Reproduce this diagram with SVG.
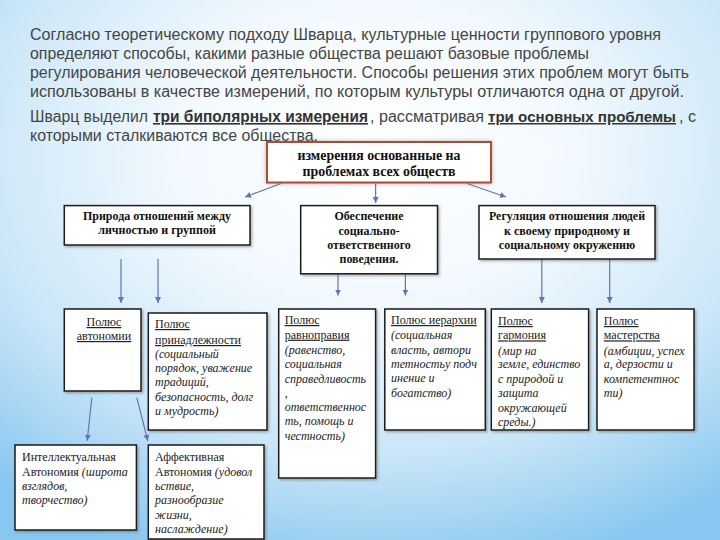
<svg xmlns="http://www.w3.org/2000/svg" width="720" height="540" viewBox="0 0 720 540">
<defs>
  <radialGradient id="bg" cx="0.52" cy="0.28" r="0.8">
    <stop offset="0" stop-color="#ffffff"/>
    <stop offset="0.35" stop-color="#f2f9fe"/>
    <stop offset="0.7" stop-color="#cae6f8"/>
    <stop offset="1" stop-color="#88c7ef"/>
  </radialGradient>
  <filter id="sh" x="-10%" y="-10%" width="130%" height="130%">
    <feDropShadow dx="1.5" dy="1.5" stdDeviation="1" flood-color="#555" flood-opacity="0.45"/>
  </filter>
  <filter id="shTop" x="-10%" y="-20%" width="120%" height="150%">
    <feDropShadow dx="0" dy="0" stdDeviation="2" flood-color="#666" flood-opacity="0.5"/>
  </filter>
  <marker id="arr" markerWidth="8" markerHeight="8" refX="6" refY="3" orient="auto" markerUnits="userSpaceOnUse">
    <path d="M0,0 L6,3 L0,6 Z" fill="#6672b4"/>
  </marker>
  <style>
    .intro { font-family: "Liberation Sans", "DejaVu Sans", sans-serif; font-size: 16px; fill: #454545; }
    .em { font-weight: bold; fill: #333; text-decoration: underline; }
    .box { fill: #ffffff; stroke: #1a1a1a; stroke-width: 1.5; filter: url(#sh); }
    .top { fill: #ffffff; stroke: #b24a36; stroke-width: 2; filter: url(#shTop); }
    .hd { font-family: "Liberation Serif", "DejaVu Serif", serif; font-weight: bold; fill: #111; text-anchor: middle; }
    .t { font-family: "Liberation Serif", "DejaVu Serif", serif; font-size: 12px; fill: #222; }
    .u { text-decoration: underline; }
    .i { font-style: italic; }
    .con line { stroke: #6672b4; stroke-width: 1.2; marker-end: url(#arr); }
  </style>
</defs>

<rect x="0" y="0" width="720" height="540" fill="url(#bg)"/>

<g id="intro" class="intro">
  <text x="30" y="40" textLength="631" lengthAdjust="spacingAndGlyphs">Согласно теоретическому подходу Шварца, культурные ценности группового уровня</text>
  <text x="30" y="59" textLength="559" lengthAdjust="spacingAndGlyphs">определяют способы, какими разные общества решают базовые проблемы</text>
  <text x="30" y="78" textLength="659" lengthAdjust="spacingAndGlyphs">регулирования человеческой деятельности. Способы решения этих проблем могут быть</text>
  <text x="30" y="97" textLength="654" lengthAdjust="spacingAndGlyphs">использованы в качестве измерений, по которым культуры отличаются одна от другой.</text>
  <text x="30" y="122" textLength="118" lengthAdjust="spacingAndGlyphs">Шварц выделил</text>
  <text x="153" y="122" class="em" textLength="215" lengthAdjust="spacingAndGlyphs">три биполярных измерения</text>
  <text x="370" y="122" textLength="114" lengthAdjust="spacingAndGlyphs">, рассматривая</text>
  <text x="488" y="122" class="em" font-size="15" textLength="188" lengthAdjust="spacingAndGlyphs">три основных проблемы</text>
  <text x="679" y="122" textLength="17" lengthAdjust="spacingAndGlyphs">, с</text>
  <text x="30" y="141" textLength="288" lengthAdjust="spacingAndGlyphs">которыми сталкиваются все общества.</text>
</g>

<g id="connectors" class="con">
  <line x1="281" y1="183.5" x2="245" y2="197"/>
  <line x1="375.6" y1="183.5" x2="375.6" y2="203"/>
  <line x1="467" y1="183.5" x2="506" y2="197"/>
  <line x1="121" y1="259" x2="121" y2="303"/>
  <line x1="158" y1="259" x2="158" y2="303"/>
  <line x1="338" y1="274" x2="338" y2="295.5"/>
  <line x1="405.4" y1="274" x2="405.4" y2="295.5"/>
  <line x1="541.8" y1="259" x2="541.8" y2="303"/>
  <line x1="609.7" y1="259" x2="609.7" y2="303"/>
  <line x1="91.8" y1="397.7" x2="87.2" y2="440.8"/>
  <line x1="136.8" y1="397.7" x2="147.8" y2="440.8"/>
</g>

<g id="node-top">
  <rect class="top" x="267" y="142" width="224" height="40.5"/>
  <text class="hd" x="379" y="159.5" font-size="14" textLength="163" lengthAdjust="spacingAndGlyphs">измерения основанные на</text>
  <text class="hd" x="379" y="176" font-size="14" textLength="153" lengthAdjust="spacingAndGlyphs">проблемах всех обществ</text>
</g>

<g id="node-nature">
  <rect class="box" x="64.3" y="205.6" width="185.7" height="39.4"/>
  <text class="hd" x="157" y="220" font-size="12" textLength="148" lengthAdjust="spacingAndGlyphs">Природа отношений между</text>
  <text class="hd" x="157" y="234" font-size="12">личностью и группой</text>
</g>

<g id="node-social">
  <rect class="box" x="300.7" y="205.6" width="136.8" height="68.2"/>
  <text class="hd" x="369" y="220" font-size="12">Обеспечение</text>
  <text class="hd" x="369" y="234.5" font-size="12">социально-</text>
  <text class="hd" x="369" y="249" font-size="12">ответственного</text>
  <text class="hd" x="369" y="263" font-size="12">поведения.</text>
</g>

<g id="node-regulation">
  <rect class="box" x="479" y="205.6" width="176" height="53.4"/>
  <text class="hd" x="567" y="220" font-size="12" textLength="156" lengthAdjust="spacingAndGlyphs">Регуляция отношения людей</text>
  <text class="hd" x="567" y="234.5" font-size="12">к своему природному и</text>
  <text class="hd" x="567" y="249" font-size="12">социальному окружению</text>
</g>

<g id="node-autonomy">
  <rect class="box" x="64.3" y="309" width="76.7" height="82"/>
  <text class="t u" x="104" y="326" text-anchor="middle">Полюс</text>
  <text class="t u" x="104" y="340" text-anchor="middle">автономии</text>
</g>

<g id="node-belonging">
  <rect class="box" x="148.3" y="313" width="118.7" height="117"/>
  <text class="t u" x="155" y="328">Полюс</text>
  <text class="t u" x="155" y="344">принадлежности</text>
  <text class="t i" x="155" y="358">(социальный</text>
  <text class="t i" x="155" y="372">порядок, уважение</text>
  <text class="t i" x="155" y="386">традиций,</text>
  <text class="t i" x="155" y="401">безопасность, долг</text>
  <text class="t i" x="155" y="415">и мудрость)</text>
</g>

<g id="node-equality">
  <rect class="box" x="278.7" y="309" width="96.9" height="169"/>
  <text class="t u" x="284.7" y="324">Полюс</text>
  <text class="t u" x="284.7" y="338.7">равноправия</text>
  <text class="t i" x="284.7" y="354">(равенство,</text>
  <text class="t i" x="284.7" y="368">социальная</text>
  <text class="t i" x="284.7" y="383">справедливость</text>
  <text class="t i" x="284.7" y="396.6">,</text>
  <text class="t i" x="284.7" y="411">ответственнос</text>
  <text class="t i" x="284.7" y="425">ть, помощь и</text>
  <text class="t i" x="284.7" y="439.6">честность)</text>
</g>

<g id="node-hierarchy">
  <rect class="box" x="384.8" y="309" width="100.5" height="121"/>
  <text class="t u" x="391" y="324">Полюс иерархии</text>
  <text class="t i" x="391" y="338.7">(социальная</text>
  <text class="t i" x="391" y="353.5">власть, автори</text>
  <text class="t i" x="391" y="368">тетностьу подч</text>
  <text class="t i" x="391" y="382">инение и</text>
  <text class="t i" x="391" y="396.6">богатство)</text>
</g>

<g id="node-harmony">
  <rect class="box" x="491.3" y="309" width="97.3" height="121"/>
  <text class="t u" x="498" y="325">Полюс</text>
  <text class="t u" x="498" y="339.4">гармония</text>
  <text class="t i" x="498" y="354.5">(мир на</text>
  <text class="t i" x="498" y="368">земле, единство</text>
  <text class="t i" x="498" y="382.8">с природой и</text>
  <text class="t i" x="498" y="397">защита</text>
  <text class="t i" x="498" y="411.7">окружающей</text>
  <text class="t i" x="498" y="426">среды.)</text>
</g>

<g id="node-mastery">
  <rect class="box" x="597" y="309" width="97" height="121"/>
  <text class="t u" x="603.8" y="325">Полюс</text>
  <text class="t u" x="603.8" y="339.4">мастерства</text>
  <text class="t i" x="603.8" y="354.5">(амбиции, успех</text>
  <text class="t i" x="603.8" y="368">а, дерзости и</text>
  <text class="t i" x="603.8" y="382.8">компетентнос</text>
  <text class="t i" x="603.8" y="397">ти)</text>
</g>

<g id="node-intellectual">
  <rect class="box" x="15" y="445" width="121.4" height="85"/>
  <text class="t" x="22" y="460.6">Интеллектуальная</text>
  <text class="t" x="22" y="475.8">Автономия <tspan class="i">(широта</tspan></text>
  <text class="t i" x="22" y="490">взглядов,</text>
  <text class="t i" x="22" y="504">творчество)</text>
</g>

<g id="node-affective">
  <rect class="box" x="148.3" y="445" width="115.7" height="94"/>
  <text class="t" x="155" y="460.6">Аффективная</text>
  <text class="t" x="155" y="475.8">Автономия <tspan class="i">(удовол</tspan></text>
  <text class="t i" x="155" y="490">ьствие,</text>
  <text class="t i" x="155" y="504">разнообразие</text>
  <text class="t i" x="155" y="518.8">жизни,</text>
  <text class="t i" x="155" y="532.6">наслаждение)</text>
</g>
</svg>
